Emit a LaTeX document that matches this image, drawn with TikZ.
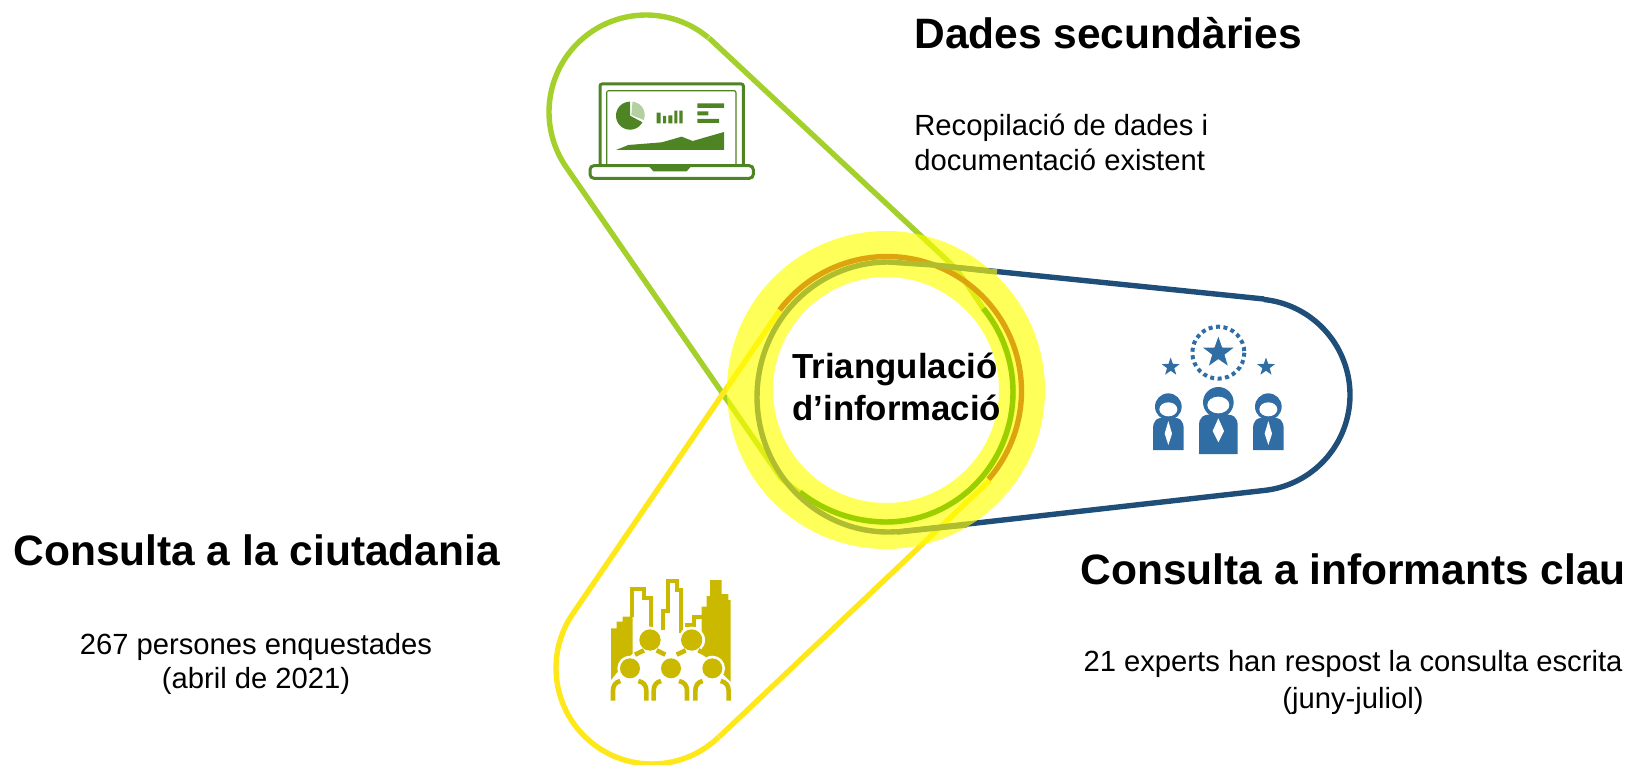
\documentclass[tikz,border=0pt]{standalone}
\usepackage{fontspec}
\setmainfont{Liberation Sans}
\usetikzlibrary{shapes.geometric}
\definecolor{cgreen}{HTML}{A3D02B}
\definecolor{cblue}{HTML}{1F4E79}
\definecolor{cyel}{HTML}{FFE81A}
\definecolor{cring}{HTML}{FFFF00}
\definecolor{corange}{HTML}{DDA40F}
\definecolor{cgreenb}{HTML}{9CCF00}
\definecolor{colive}{HTML}{AFBD2E}
\definecolor{ilap}{HTML}{4E8424}
\definecolor{ilaph}{HTML}{B4CFA0}
\definecolor{iexp}{HTML}{2F6DA4}
\definecolor{icity}{HTML}{CBB900}
\tikzset{
  loopline/.style={line width=2.7pt,line join=round,line cap=butt},
  head/.style={font=\bfseries\fontsize{21.25}{25}\selectfont,anchor=base west,inner sep=0pt},
  bodyl/.style={font=\fontsize{14.6}{18}\selectfont,anchor=base,inner sep=0pt},
  midl/.style={font=\bfseries\fontsize{17.4}{21}\selectfont,anchor=base west,inner sep=0pt},
  starn/.style={star,star points=5,star point ratio=2.5,fill=iexp,inner sep=0pt,draw=none},
  facew/.style={fill=white,draw=none}
}
\begin{document}
\begin{tikzpicture}[x=0.5pt,y=-0.5pt]
\useasboundingbox (0,0) rectangle (1632,765);
% capsules
\draw[loopline,cgreen] plot[domain=-50:-214,samples=70] ({646+97*cos(\x)},{112+97*sin(\x)}) -- (781,478)
  .. controls (815,508) and (850,522) .. (887,522)
  -- plot[domain=90:-40,samples=60] ({886+127*cos(\x)},{392+130*sin(\x)})
  .. controls (972,292) and (962,275) .. (950,263) -- (709,38);
\draw[loopline,cyel] plot[domain=46:215,samples=70] ({652+96*cos(\x)},{668+96*sin(\x)}) -- (780,310);
\draw[loopline,cyel] (990,480) -- (719,737);
\draw[loopline,cblue] (933,265) -- (1264,299) plot[domain=-84:84,samples=70] ({1254+96*cos(\x)},{395+96*sin(\x)}) -- (897,532);
% ring
\fill[cring,fill opacity=.65,even odd rule] (886,390) circle[radius=159] (886,390) circle[radius=113];
% overlays
\draw[loopline,cgreenb] (800,492) .. controls (825,512) and (855,522) .. (887,522)
  -- plot[domain=90:-40,samples=60] ({886+127*cos(\x)},{392+130*sin(\x)});
\draw[loopline,corange] plot[domain=217:401,samples=80] ({887+134.5*cos(\x)},{391+134.5*sin(\x)});
\draw[loopline,colive] (967,525) -- (897,532) plot[domain=86:270,samples=80] ({888+131*cos(\x)},{397+135*sin(\x)}) -- (933,265) -- (997,272);
% laptop icon
\begin{scope}[shift={(570,70)},scale=1/3]
  \draw[ilap,line width=1.5pt,rounded corners=1pt] (90,285) -- (90,42) -- (520,42) -- (520,285);
  \draw[ilap,line width=.6pt,rounded corners=1pt] (110,285) -- (110,62) -- (498,62) -- (498,285);
  \draw[ilap,line width=1.5pt,rounded corners=2pt] (60,287) rectangle (550,325);
  \fill[ilap] (235,287) -- (365,287) -- (350,304) -- (250,304) -- cycle;
  \fill[ilap] (180,137) -- plot[domain=28:270,samples=50] ({180+42*cos(\x)},{137+42*sin(\x)}) -- cycle;
  \fill[ilaph] (184,135) -- plot[domain=-85:22,samples=30] ({184+40*cos(\x)},{135+40*sin(\x)}) -- cycle;
  \fill[ilap] (260,128) rectangle (272,160) (279,138) rectangle (288,160) (295,136) rectangle (307,160) (313,122) rectangle (322,160) (328,122) rectangle (338,160);
  \fill[ilap] (382,100) rectangle (462,114) (382,124) rectangle (415,136) (382,147) rectangle (447,159);
  \fill[ilap] (138,240) -- (175,225) -- (275,217) -- (335,200) -- (368,213) -- (462,186) -- (462,240) -- cycle;
\end{scope}
% experts icon
\begin{scope}[shift={(1140,310)},scale=1/3]
  \draw[iexp,line width=2pt,dash pattern=on 2pt off 1.75pt] (235,128) circle[radius=78];
  \node[starn,minimum size=16pt] (starc) at (235,128) {};
  \node[starn,minimum size=9.5pt] (starl) at (92,171) {};
  \node[starn,minimum size=9.5pt] (starr) at (378,171) {};
  \foreach \cx/\hy/\hr/\fw/\fh/\bw/\bt/\bb/\tt/\tw in {85/290/40/27/21/46/322/420/333/11,385/290/40/27/21/46/322/420/333/11,235/277/46/33/25/58/312/432/325/17}{
    \fill[iexp] ({\cx-\bw},\bb) -- ({\cx-\bw},{\bt+38}) .. controls ({\cx-\bw},{\bt+8}) and ({\cx-\bw+8},\bt) .. (\cx,\bt) .. controls ({\cx+\bw-8},\bt) and ({\cx+\bw},{\bt+8}) .. ({\cx+\bw},{\bt+38}) -- ({\cx+\bw},\bb) -- cycle;
    \fill[iexp] (\cx,\hy) circle[radius=\hr];
    \fill[facew] (\cx,{\hy+8}) ellipse[x radius=\fw,y radius=\fh];
    \fill[facew] (\cx,\tt) -- ({\cx+\tw},{\tt+38}) -- (\cx,{\tt+72}) -- ({\cx-\tw},{\tt+38}) -- cycle;
  }
\end{scope}
% city icon
\begin{scope}[shift={(600,570)},scale=1/3]
  \fill[icity] (33,330) -- (33,175) -- (50,175) -- (50,155) -- (68,155) -- (68,140) -- (98,140) -- (98,250) -- cycle;
  \fill[icity] (392,335) -- (392,90) -- (385,90) -- (385,72) -- (365,72) -- (365,30) -- (330,30) -- (330,78) -- (320,78) -- (320,110) -- (305,110) -- (305,250) -- cycle;
  \draw[icity,line width=2pt] (95,140) -- (95,57) -- (131,57) -- (131,84) -- (152,84) -- (152,180);
  \draw[icity,line width=2pt] (188,180) -- (188,122) -- (203,122) -- (203,34) -- (232,34) -- (232,60) -- (242,60) -- (242,190);
  \draw[icity,line width=2pt] (262,170) -- (262,165) -- (282,165) -- (282,142) -- (305,142);
  \foreach \hx/\hy/\hr in {150/210/32,275/210/32,90/295/30,213/295/30,337/295/30}{
    \fill[white] (\hx,\hy) circle[radius={\hr+8}];
    \fill[icity] (\hx,\hy) circle[radius=\hr];
  }
  \foreach \sx in {35,157,282}{
    \draw[icity,line width=2.3pt] (\sx+4,392) -- (\sx+4,362) .. controls (\sx+4,346) and (\sx+12,336) .. (\sx+26,333);
    \draw[icity,line width=2.3pt] (\sx+80,333) .. controls (\sx+95,336) and (\sx+104,346) .. (\sx+104,362) -- (\sx+104,392);
  }
  \draw[icity,line width=2.3pt] (105,254) -- (132,241) (170,241) -- (196,254) (230,254) -- (257,241) (295,241) -- (322,254);
\end{scope}
% texts
\node[head] (t1) at (914,49) {Dades secundàries};
\node[bodyl,anchor=base west] (t1a) at (914,135) {Recopilació de dades i};
\node[bodyl,anchor=base west] (t1b) at (914,170) {documentació existent};
\node[head] (t2) at (13,565) {Consulta a la ciutadania};
\node[bodyl] (t2a) at (256,654) {267 persones enquestades};
\node[bodyl] (t2b) at (256,688) {(abril de 2021)};
\node[head] (t3) at (1080,584) {Consulta a informants clau};
\node[bodyl] (t3a) at (1353,671) {21 experts han respost la consulta escrita};
\node[bodyl] (t3b) at (1353,708) {(juny-juliol)};
\node[midl] (c1) at (792,378) {Triangulació};
\node[midl] (c2) at (792,420) {d’informació};
\end{tikzpicture}
\end{document}
